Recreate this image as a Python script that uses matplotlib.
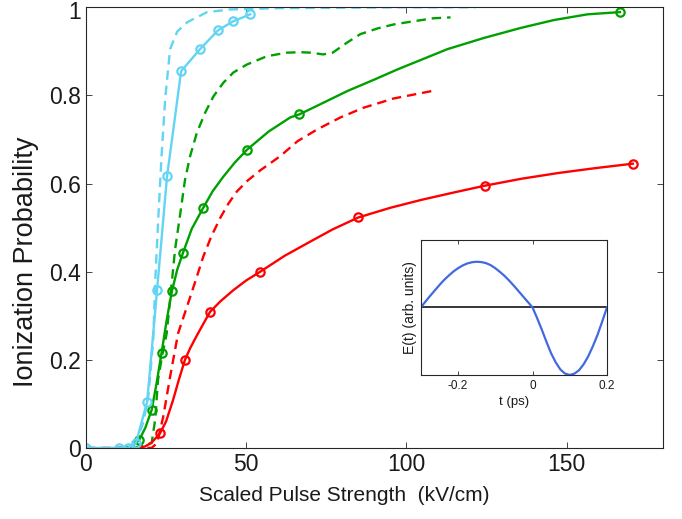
#!/usr/bin/env python3
"""Ionization probability vs scaled pulse strength, with pulse-shape inset."""
import matplotlib
matplotlib.use("Agg")
import matplotlib.pyplot as plt
import matplotlib.transforms as mtransforms

plt.rcParams["font.family"] = ["Liberation Sans", "DejaVu Sans"]

# ── data ───────────────────────────────────────────────────────────────
# cyan: solid with markers (polyline through markers) and dashed
CYAN_X = [0, 10.3, 13.1, 15.6, 19.1, 22.2, 25.3, 29.7, 35.6, 41.25, 45.9, 51.25]
CYAN_Y = [0, 0, 0, 0.011, 0.105, 0.359, 0.616, 0.855, 0.905, 0.948, 0.968, 0.984]
CYAN_D_X = [10, 14, 16, 18, 19.5, 21, 21.6, 22.6, 23.6, 24.7, 26.25, 28.5,
            31.6, 37.8, 45, 60, 80, 100, 121.5]
CYAN_D_Y = [0, 0.005, 0.02, 0.06, 0.12, 0.245, 0.375, 0.525, 0.664, 0.79,
            0.905, 0.945, 0.966, 0.989, 0.995, 0.998, 0.999, 1.0, 1.0]

# green: smooth solid line, markers on a subset, and dashed
GREEN_X = [12, 14.5, 16.6, 18.5, 20.5, 22, 23.6, 25.2, 26.8, 28.5, 30.3, 33,
           36.6, 39.5, 42.8, 46.5, 50.3, 57, 63.75, 66.6, 72, 81.6, 90, 97.2,
           105, 112.8, 124, 135.6, 146, 156.5, 166.6]
GREEN_Y = [0, 0.004, 0.018, 0.045, 0.086, 0.145, 0.216, 0.29, 0.355, 0.405,
           0.443, 0.497, 0.545, 0.582, 0.615, 0.648, 0.677, 0.718, 0.75,
           0.757, 0.776, 0.81, 0.836, 0.859, 0.882, 0.905, 0.93, 0.953,
           0.971, 0.984, 0.989]
GREEN_MX = [16.6, 20.5, 23.6, 26.8, 30.3, 36.6, 50.3, 66.6, 166.6]
GREEN_MY = [0.018, 0.086, 0.216, 0.355, 0.443, 0.545, 0.677, 0.757, 0.989]
GREEN_D_X = [15, 20.5, 21.6, 22.5, 23.8, 25.2, 26.25, 27.8, 29.4, 30.9, 32.5,
             34.6, 37.2, 39.8, 42.9, 46, 50.2, 56.5, 62.7, 66.9, 70, 74, 77,
             81.5, 85.6, 91, 96, 102, 108.4, 113.75]
GREEN_D_Y = [0, 0.011, 0.064, 0.155, 0.21, 0.26, 0.336, 0.45, 0.53, 0.608,
             0.662, 0.715, 0.761, 0.798, 0.829, 0.852, 0.87, 0.889, 0.897,
             0.898, 0.897, 0.893, 0.897, 0.92, 0.939, 0.952, 0.961, 0.968,
             0.975, 0.977]

# red: smooth solid line, markers on a subset, and dashed
RED_X = [10, 16, 18.4, 20.5, 23.1, 25, 27.2, 29, 30.9, 32.5, 34.6, 36.5,
         38.75, 42, 46, 50, 54.4, 62, 69.7, 77, 85, 95, 104.7, 115, 124.4,
         136, 147.5, 159, 170.6]
RED_Y = [0, 0, 0.003, 0.012, 0.033, 0.06, 0.109, 0.155, 0.2, 0.226, 0.255,
         0.28, 0.309, 0.333, 0.358, 0.38, 0.4, 0.436, 0.467, 0.496, 0.523,
         0.545, 0.563, 0.58, 0.595, 0.611, 0.624, 0.635, 0.645]
RED_MX = [23.1, 30.9, 38.75, 54.4, 85, 124.4, 170.6]
RED_MY = [0.033, 0.2, 0.309, 0.4, 0.523, 0.595, 0.645]
RED_D_X = [0, 20.5, 22.2, 24.1, 26.25, 28.75, 31.5, 34, 36.6, 39, 41.9, 44.5,
           47.1, 50.5, 54.4, 60.6, 66, 72.2, 79.4, 86.6, 96, 108]
RED_D_Y = [0, 0, 0.011, 0.07, 0.161, 0.26, 0.32, 0.375, 0.434, 0.478, 0.522,
           0.555, 0.582, 0.607, 0.63, 0.662, 0.696, 0.723, 0.75, 0.772,
           0.793, 0.81]

# inset: field waveform
PULSE_T = [-0.3, -0.2875, -0.275, -0.2625, -0.25, -0.2375, -0.225, -0.2125,
           -0.2, -0.1875, -0.175, -0.1625, -0.15, -0.1375, -0.125, -0.1125,
           -0.1, -0.0875, -0.075, -0.0625, -0.05, -0.0375, -0.025, -0.0125,
           0, 0.0125, 0.025, 0.0375, 0.05, 0.0625, 0.075, 0.0875, 0.1,
           0.1125, 0.125, 0.1375, 0.15, 0.1625, 0.175, 0.1875, 0.2]
PULSE_E = [0, 0.085, 0.17, 0.25, 0.33, 0.405, 0.47, 0.53, 0.58, 0.62, 0.65,
           0.668, 0.675, 0.67, 0.655, 0.625, 0.58, 0.525, 0.465, 0.395, 0.32,
           0.24, 0.16, 0.08, 0, -0.16, -0.33, -0.51, -0.68, -0.815, -0.92,
           -0.98, -1.0, -0.98, -0.93, -0.84, -0.72, -0.57, -0.40, -0.205, 0]

X_TICKS = [0, 50, 100, 150]
Y_TICKS = [0, 0.2, 0.4, 0.6, 0.8, 1]
Y_TICK_LABELS = ["0", "0.2", "0.4", "0.6", "0.8", "1"]
INSET_TICKS = [-0.2, 0, 0.2]
INSET_TICK_LABELS = ["-0.2", "0", "0.2"]

CYAN = "#62D4F4"
GREEN = "#00A000"
RED = "#FF0000"
BLUE = "#4169E1"
AXC = "#262626"
TXT = "#1a1a1a"
DASH = (0, (4, 2.5))


def style_box(ax, size):
    for sp in ax.spines.values():
        sp.set_color(AXC)
        sp.set_linewidth(0.8)
    ax.tick_params(direction="in", top=True, right=True, colors=AXC,
                   labelcolor=TXT, labelsize=size, length=4, width=0.6)


def main():
    fig = plt.figure(figsize=(6.82, 5.19), dpi=100)
    ax = fig.add_axes([0.126, 0.137, 0.846, 0.849])

    lw = 1.7
    mk = dict(marker="o", markersize=6, markerfacecolor="none", markeredgewidth=1.6)

    ax.plot(RED_D_X, RED_D_Y, color=RED, lw=lw, linestyle=DASH)
    ax.plot(GREEN_D_X, GREEN_D_Y, color=GREEN, lw=lw, linestyle=DASH)
    ax.plot(CYAN_D_X, CYAN_D_Y, color=CYAN, lw=lw, linestyle=DASH)

    ax.plot(RED_X, RED_Y, color=RED, lw=lw)
    ax.plot(RED_MX, RED_MY, linestyle="none", color=RED, **mk)
    ax.plot(GREEN_X, GREEN_Y, color=GREEN, lw=lw)
    ax.plot(GREEN_MX, GREEN_MY, linestyle="none", color=GREEN, **mk)
    ax.plot(CYAN_X, CYAN_Y, color=CYAN, lw=lw, **mk)

    ax.set_xlim(0, 180)
    ax.set_ylim(0, 1)
    ax.set_xticks(X_TICKS)
    ax.set_yticks(Y_TICKS)
    ax.set_yticklabels(Y_TICK_LABELS)
    style_box(ax, 16.5)
    # top "1" sits a touch lower in the reference, keep it inside the figure
    top_lbl = ax.get_yticklabels()[-1]
    top_lbl.set_transform(top_lbl.get_transform()
                          + mtransforms.ScaledTranslation(0, -2 / 72, fig.dpi_scale_trans))
    ax.set_xlabel("Scaled Pulse Strength  (kV/cm)", fontsize=15, color=TXT)
    ax.set_ylabel("Ionization Probability", fontsize=19.5, color=TXT)
    # labels sit off-centre in the reference
    ax.xaxis.set_label_coords(0.447, -0.086)
    ax.yaxis.set_label_coords(-0.082, 0.423)

    # inset
    ins = fig.add_axes([0.617, 0.2775, 0.273, 0.2605])
    ins.axhline(0, color="black", lw=1.1)
    ins.plot(PULSE_T, PULSE_E, color=BLUE, lw=1.6)
    ins.set_xlim(-0.3, 0.2)
    ins.set_ylim(-1.0, 1.0)
    ins.set_xticks(INSET_TICKS)
    ins.set_xticklabels(INSET_TICK_LABELS)
    ins.set_yticks([])
    style_box(ins, 8.5)
    ins.tick_params(length=3)
    ins.set_xlabel("t (ps)", fontsize=9.5, labelpad=3, color=TXT)
    ins.set_ylabel("E(t) (arb. units)", fontsize=10, labelpad=3, color=TXT)

    fig.savefig("out.png", dpi=100)


if __name__ == "__main__":
    main()
